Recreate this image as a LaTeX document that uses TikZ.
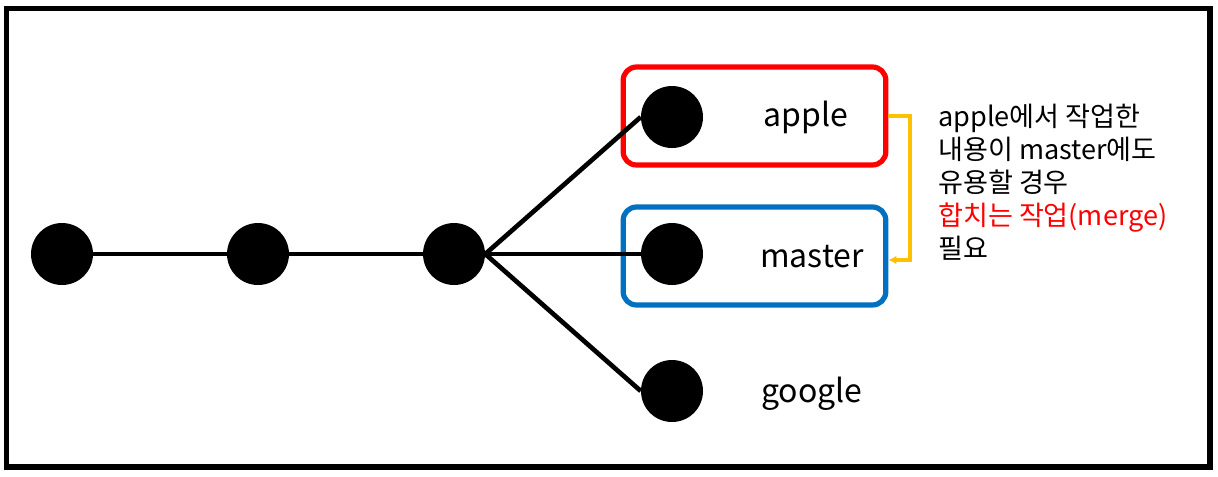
\documentclass[tikz,border=0pt]{standalone}
\usepackage{fontspec}
\setmainfont{Noto Sans CJK KR}
\usetikzlibrary{positioning,arrows.meta}
\definecolor{boxred}{HTML}{FF0000}
\definecolor{boxblue}{HTML}{0070C0}
\definecolor{mergeyellow}{HTML}{FFC000}

\begin{document}
\begin{tikzpicture}[x=0.75pt, y=-0.75pt,
    commit/.style={circle, fill=black, minimum size=46.5pt, inner sep=0pt},
    branch/.style={draw, rounded corners=10pt, line width=3.9pt, minimum width=197pt, minimum height=73.5pt},
    label/.style={font=\fontsize{24}{28}\selectfont, inner sep=0pt},
    edge/.style={line width=3.5pt}]
    \useasboundingbox (0,0) rectangle (1218,476);
    \draw[line width=4pt] (6.5,8.5) rectangle (1210,467);

    \node[branch, draw=boxred] (applebox) at (754.5,116) {};
    \node[branch, draw=boxblue] (masterbox) at (754.5,256) {};

    \node[commit] (c1) at (62,254) {};
    \node[commit] (c2) at (258,254) {};
    \node[commit] (c3) at (454,254) {};
    \node[commit] (apple) at (672,117) {};
    \node[commit] (master) at (672,254) {};
    \node[commit] (google) at (672,391) {};

    \draw[edge] (c1) -- (c2);
    \draw[edge] (c2) -- (c3);
    \draw[edge] (c3.east) -- (apple.west);
    \draw[edge] (c3.east) -- (master.west);
    \draw[edge] (c3.east) -- (google.west);

    \node[label] (applelabel) at (806,117) {apple};
    \node[label] (masterlabel) at (812,257) {master};
    \node[label] (googlelabel) at (812,394) {google};

    % merge hint
    \coordinate (turn) at (910,117);
    \draw[mergeyellow, line width=2.6pt, -{Latex[length=6pt,width=6.5pt]}]
        (applebox.east) -| (turn) |- ([yshift=-3pt]masterbox.east);

    \node[anchor=north west, align=left, inner sep=0pt,
          font=\fontsize{20.3}{24.75}\selectfont] (note) at (938,104)
        {apple에서 작업한\\내용이 master에도\\유용할 경우\\\textcolor{boxred}{합치는 작업(merge)}\\필요};
\end{tikzpicture}
\end{document}
